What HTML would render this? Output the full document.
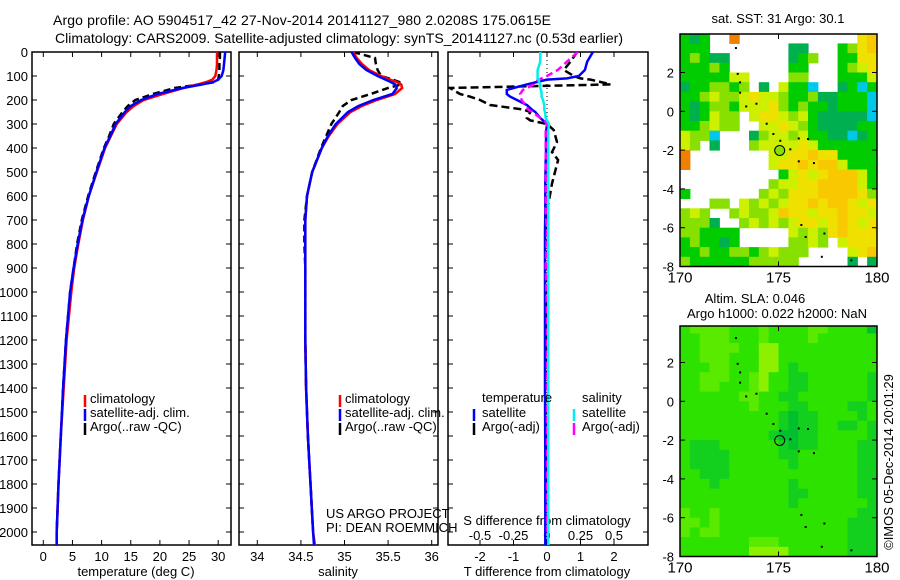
<!DOCTYPE html>
<html><head><meta charset="utf-8"><style>
html,body{margin:0;padding:0;background:#fff;}
svg{display:block;font-family:"Liberation Sans",Arial,sans-serif;}
</style></head><body>
<svg id="chart" width="900" height="580" viewBox="0 0 900 580" xmlns="http://www.w3.org/2000/svg">
<defs>
<clipPath id="c1"><rect x="32" y="52" width="199" height="493"/></clipPath>
<clipPath id="c2"><rect x="239" y="52" width="199" height="493"/></clipPath>
<clipPath id="c3"><rect x="448" y="52" width="200" height="493"/></clipPath>
<clipPath id="cm1"><rect x="680" y="34" width="197" height="233"/></clipPath>
<clipPath id="cm2"><rect x="680" y="326" width="197" height="231"/></clipPath>
</defs>
<text x="53" y="25" font-size="14" textLength="498">Argo profile: AO 5904517_42 27-Nov-2014 20141127_980 2.0208S 175.0615E</text>
<text x="55" y="43" font-size="14" textLength="568">Climatology: CARS2009. Satellite-adjusted climatology: synTS_20141127.nc (0.53d earlier)</text>
<g id="g1"></g>
<g id="g2"></g>
<g id="g3"></g>
<g id="m1"></g>
<g id="m2"></g>
<text x="778" y="23" font-size="13" text-anchor="middle">sat. SST: 31  Argo: 30.1</text>
<text x="755" y="303" font-size="13" text-anchor="middle">Altim. SLA: 0.046</text>
<text x="777" y="318" font-size="13" text-anchor="middle">Argo h1000: 0.022 h2000: NaN</text>
<text x="0" y="0" font-size="13" text-anchor="middle" transform="translate(893,462) rotate(-90)">©IMOS 05-Dec-2014 20:01:29</text>
</svg>
<script>
// ---------- profile data ----------
const depths = [0,25,50,75,100,115,125,135,150,175,200,225,250,300,350,400,500,600,700,800,900,1000,1200,1400,1600,1800,2000,2055];
const tempClim = [29.8,29.8,29.8,29.7,29.5,29.0,28.0,26.5,24.0,20.5,17.2,15.5,14.3,12.6,11.6,10.6,9.2,7.8,6.8,6.0,5.3,4.8,4.0,3.5,3.0,2.6,2.3,2.3];
const tempSat = [31.2,31.1,31.0,30.9,30.6,30.0,29.2,27.3,23.9,19.6,16.8,15.0,14.0,12.4,11.5,10.5,9.1,7.8,6.7,5.9,5.2,4.6,3.9,3.4,3.0,2.6,2.3,2.3];
const tempArgo = [30.3,30.3,30.2,30.2,30.1,30.0,29.5,27.0,22.5,18.8,15.8,14.5,13.6,12.1,11.3,10.4,9.0,7.7,6.6,5.8,5.2,4.6,3.9,3.4,3.0,2.6,2.3,null];
const salClim = [35.1,35.14,35.2,35.28,35.42,35.52,35.6,35.65,35.66,35.58,35.37,35.2,35.07,34.92,34.82,34.74,34.63,34.57,34.55,34.55,34.55,34.55,34.55,34.56,34.58,34.61,34.64,34.66];
const salSat = [35.08,35.12,35.17,35.25,35.38,35.47,35.53,35.58,35.6,35.55,35.33,35.16,35.04,34.9,34.81,34.74,34.63,34.57,34.55,34.55,34.55,34.55,34.55,34.56,34.58,34.61,34.64,34.65];
const salArgo = [35.1,35.35,35.36,35.38,35.42,35.55,35.63,35.65,35.5,35.3,35.08,34.98,34.94,34.85,34.79,34.73,34.63,34.57,34.54,34.54,34.55,34.55,34.55,34.56,34.58,34.61,34.64,null];
const diffDepths = [0,40,75,100,110,115,125,135,150,158,175,186,200,221,240,250,275,285,300,325,375,417,450,548,667,750,890,1100,1400,1700,2000,2055];
const dTempSat = [1.37,1.2,1.13,0.95,0.6,0,-0.3,-0.6,-1.0,-1.2,-1.2,-1.1,-0.9,-0.6,-0.45,-0.35,-0.2,-0.12,0,-0.02,-0.03,-0.03,-0.04,-0.05,-0.05,-0.06,-0.06,-0.06,-0.06,-0.05,-0.05,-0.05];
const dTempArgo = [0.9,0.7,0.5,0.8,1.0,1.3,1.6,1.9,-2.9,-2.8,-2.6,-2.3,-2.0,-1.7,-0.7,-0.5,-0.6,-0.5,0,0.2,0.3,0.15,0.33,0.15,0,-0.05,-0.02,0,-0.02,-0.01,-0.02,null];
const dSalSat = [-0.05,-0.05,-0.07,-0.07,-0.07,-0.06,-0.06,-0.05,-0.05,-0.045,-0.04,-0.04,-0.03,-0.02,-0.02,-0.015,-0.01,0,0.015,0.01,0.01,0.01,0.01,0.01,0.01,0.01,0.01,0.01,0.01,0.01,0.01,0.01];
const dSalArgo = [0.23,0.15,0.08,0,-0.04,-0.06,-0.09,-0.1,-0.15,-0.18,-0.2,-0.19,-0.19,-0.16,-0.14,-0.11,-0.05,-0.02,0,-0.01,-0.01,-0.01,-0.01,-0.01,-0.01,0,-0.01,0,0,0,0,null];
const depthTicks = [0,100,200,300,400,500,600,700,800,900,1000,1100,1200,1300,1400,1500,1600,1700,1800,1900,2000];
const tempTicks = [0,5,10,15,20,25,30];
const salTicks = [34,34.5,35,35.5,36];
const salTickLabels = ["34","34.5","35","35.5","36"];
const dTempTicks = [-2,-1,0,1,2];
const dSalTicks = [-0.5,-0.25,0,0.25,0.5];
const dSalTickLabels = ["-0.5","-0.25","0","0.25","0.5"];

// ---------- map data (0.5 deg cells, lat 4 -> -8, lon 170 -> 180) ----------
const sstRows = [
"GDG  R            EO",
"GGG        DD   GLEO",
"GLGDD      DGL  GGEE",
"GGGLG      GG   GLYE",
"GGGGGYY    LL   GGGY",
"DGGLLGL D YGGC  DGCG",
"GGLYLLYEYYLGGLDDGGGC",
"GDGLLGYYYELGLGGDGGGC",
"GDGYLL YEEYLYGDDDDDC",
"GGLYLL  YYEYLGDDDDGG",
"YLLC   DLYYLYGGDDCDG",
"YL D   LYYYYEYGGGGGG",
"R        YYEEOEEGGGG",
"R        YEEOEOOYGGG",
"          GYEYEOOOYG",
"         LYYEEOOOOYG",
"G       LYLEEEOOOOEL",
"   LL YLYLYEEOEOOEYE",
"LYL  LYLLYOEEYEEOEEY",
"LLLD  LYLYLYEEYEOEYE",
"LLGGGG     YLYLEOEEE",
"GLGGDG     LLYL YEEE",
"GGLGGLLGLYLLL    YEO",
"LGGGGGGLLLLL     D D"];
const slaRows = [
"gllllggglggggllgggge",
"gglllggglgggglgggggg",
"ggllllggbbgggggggggg",
"gglllgggbbgggggggggg",
"gggllgggbbgdgggggggg",
"gglllgglbggddggggggd",
"ggllggglbggddggggggd",
"ggggggllggddgggggggd",
"ggggggglgggddggggddg",
"ggggggggggdeddggggdg",
"ggggggggggdeddggddgd",
"gggggggggdeeddgggggd",
"gdddggggggdeddggggdd",
"gddddgggggddggggggdd",
"gddddggggggdggggggdd",
"ggdddgggggggggggggdd",
"gggdgggggggdggggggdd",
"gggggggggggddgggggdd",
"gggggggggggdgggggggd",
"lgglggggggggggggggdd",
"llglgggggggggggggddd",
"lgllgggggggggggggddd",
"ggggggglllgggggggddd",
"gggggggbbbbggggggddd"];
const islandLon = [172.84,172.93,173.05,173.05,173.36,173.88,174.4,174.74,175.09,175.6,176.03,176.5,176.03,176.8,176.16,176.38,177.33,177.2,178.7,178.45];
const islandLat = [3.26,1.93,1.49,0.96,0.25,0.39,-0.64,-1.17,-1.52,-1.96,-1.4,-1.43,-2.58,-2.67,-5.86,-6.48,-6.3,-7.5,-7.68,-8.2];
const floatLon = [175.06];
const floatLat = [-2.02];
const mapLatTicks = [2,0,-2,-4,-6,-8];
const mapLonTicks = [170,175,180];

const NS = "http://www.w3.org/2000/svg";
function mk(parent, tag, attrs){ const e=document.createElementNS(NS,tag); for(const k in attrs) e.setAttribute(k,attrs[k]); parent.appendChild(e); return e; }
const yD = d => 52 + d*0.24;
const xT = t => 43.3 + t*5.83;
const xS = s => 257.3 + (s-34)*87.2;
const xDT = t => 547 + t*33.5;
const xDS = s => 547 + s*134;

function series(g, xs, vals, dps, fn, color, dash, name, clip){
  let d=""; let pen=false;
  for(let i=0;i<vals.length;i++){
    if(vals[i]===null){pen=false;continue;}
    d += (pen?"L":"M") + fn(vals[i]).toFixed(1) + "," + yD(dps[i]).toFixed(1);
    pen=true;
  }
  const p = mk(g,"path",{d:d,fill:"none",stroke:color,"stroke-width":2.5,"clip-path":"url(#"+clip+")"});
  if(dash) p.setAttribute("stroke-dasharray",dash);
  
  
}
function frame(g, x0, x1, name){
  const r = mk(g,"rect",{x:x0,y:52,width:x1-x0,height:493,fill:"none",stroke:"#000","stroke-width":1.5});
  
  
  depthTicks.forEach(t=>{
    const y=yD(t);
    const a = mk(g,"line",{x1:x0,x2:x0+5,y1:y,y2:y,stroke:"#000"});
    
    
    const b = mk(g,"line",{x1:x1-5,x2:x1,y1:y,y2:y,stroke:"#000"});
    
    
  });
}
function xticks(g, ticks, labels, fn, ylab){
  ticks.forEach((t,i)=>{
    const x=fn(t);
    const a = mk(g,"line",{x1:x,x2:x,y1:52,y2:57,stroke:"#000"});
    
    
    const b = mk(g,"line",{x1:x,x2:x,y1:540,y2:545,stroke:"#000"});
    
    
    const tx = mk(g,"text",{x:x,y:ylab,"font-size":13,"text-anchor":"middle"});
    tx.textContent = labels[i];
    
    
  });
}
function txt(g, x, y, s, name, anchor){
  const t = mk(g,"text",{x:x,y:y,"font-size":13});
  if(anchor) t.setAttribute("text-anchor",anchor);
  t.textContent = s;
  
  
  return t;
}
function legBar(g, x, y, color, name){
  const l = mk(g,"line",{x1:x,x2:x,y1:y-7,y2:y+5,stroke:color,"stroke-width":2.5});
  
  
}

// Panel 1
const g1=document.getElementById("g1");
frame(g1,32,231,"temperature-plot-frame");
depthTicks.forEach(t=>{ txt(g1,28,yD(t)+5,String(t),"depth-tick-label","end"); });
xticks(g1,tempTicks,tempTicks.map(String),xT,561);
txt(g1,136,576,"temperature (deg C)","x-axis-title-temperature","middle");
series(g1,null,tempArgo,depths,xT,"#000","7,4","argo-temperature-line","c1");
series(g1,null,tempClim,depths,xT,"#ff0000",null,"climatology-temperature-line","c1");
series(g1,null,tempSat,depths,xT,"#0000ff",null,"satellite-temperature-line","c1");
[["climatology","#ff0000"],["satellite-adj. clim.","#0000ff"],["Argo(..raw -QC)","#000"]].forEach((e,i)=>{
  legBar(g1,85,402+i*14,e[1],"legend-swatch");
  txt(g1,90,403+i*14,e[0],"legend-entry");
});

// Panel 2
const g2=document.getElementById("g2");
frame(g2,239,438,"salinity-plot-frame");
xticks(g2,salTicks,salTickLabels,xS,561);
txt(g2,338,576,"salinity","x-axis-title-salinity","middle");
series(g2,null,salArgo,depths,xS,"#000","7,4","argo-salinity-line","c2");
series(g2,null,salClim,depths,xS,"#ff0000",null,"climatology-salinity-line","c2");
series(g2,null,salSat,depths,xS,"#0000ff",null,"satellite-salinity-line","c2");
[["climatology","#ff0000"],["satellite-adj. clim.","#0000ff"],["Argo(..raw -QC)","#000"]].forEach((e,i)=>{
  legBar(g2,340,402+i*14,e[1],"legend-swatch");
  txt(g2,345,403+i*14,e[0],"legend-entry");
});
txt(g2,326,518,"US ARGO PROJECT","credit-project");
txt(g2,326,532,"PI: DEAN ROEMMICH","credit-pi");

// Panel 3
const g3=document.getElementById("g3");
frame(g3,448,648,"difference-plot-frame");
xticks(g3,dTempTicks,dTempTicks.map(String),xDT,561);
txt(g3,547,576,"T difference from climatology","x-axis-title-t-difference","middle");
txt(g3,547,525,"S difference from climatology","x-axis-title-s-difference","middle");
dSalTicks.forEach((t,i)=>{ txt(g3,xDS(t),540,dSalTickLabels[i],"s-tick-label","middle"); });
const zl = mk(g3,"line",{x1:xDT(0),x2:xDT(0),y1:52,y2:545,stroke:"#000","stroke-dasharray":"1,3"});


series(g3,null,dTempArgo,diffDepths,xDT,"#000","8,4","argo-t-difference-line","c3");
series(g3,null,dTempSat,diffDepths,xDT,"#0000ff",null,"satellite-t-difference-line","c3");
series(g3,null,dSalArgo,diffDepths,xDS,"#ff00ff","7,4","argo-s-difference-line","c3");
series(g3,null,dSalSat,diffDepths,xDS,"#00eeee",null,"satellite-s-difference-line","c3");
txt(g3,482,402,"temperature","legend-header-temperature");
txt(g3,582,402,"salinity","legend-header-salinity");
legBar(g3,474,416,"#0000ff","legend-swatch"); txt(g3,482,417,"satellite","legend-entry");
legBar(g3,474,430,"#000","legend-swatch"); txt(g3,482,431,"Argo(-adj)","legend-entry");
legBar(g3,574,416,"#00eeee","legend-swatch"); txt(g3,582,417,"satellite","legend-entry");
legBar(g3,574,430,"#ff00ff","legend-swatch"); txt(g3,582,431,"Argo(-adj)","legend-entry");

// Maps
const sstColors = {G:"#00cc00",D:"#00b050",L:"#88e000",Y:"#ccf000",E:"#f0e000",O:"#f8c800",R:"#f08000",C:"#00c8e8"};
const slaColors = {g:"#2ee200",l:"#5aea00",b:"#8cf000",d:"#14d01e",e:"#00c030"};
function drawMap(g, rows, colors, top, bottom, clip, name, fillCircle){
  const lonX = lon => 680 + (lon-170)*19.7;
  const latY = lat => top + (0-lat)*19.4 + 0*bottom;
  const cg = mk(g,"g",{"clip-path":"url(#"+clip+")"});
  
  
  rows.forEach((row,r)=>{
    for(let c=0;c<row.length;c++){
      const ch=row[c]; if(ch===" ") continue;
      const lon=170+c*0.5, lat=4-r*0.5;
      const x=lonX(lon), y=latY(lat);
      const rc = mk(cg,"rect",{x:x.toFixed(1),y:y.toFixed(1),width:10.4,height:10.2,fill:colors[ch]});
      
      
    }
  });
  islandLon.forEach((lon,i)=>{
    const d = mk(cg,"rect",{x:lonX(lon)-1,y:latY(islandLat[i])-1,width:2,height:2,fill:"#000"});
    
    
  });
  floatLon.forEach((lon,i)=>{
    const c = mk(cg,"circle",{cx:lonX(lon),cy:latY(floatLat[i]),r:5,fill:fillCircle,stroke:"#000","stroke-width":1});
    
    
  });
  const y0 = latY(4), y1 = latY(-8);
  const yt = Math.max(y0, clip==="cm1"?34:326);
  const fr = mk(g,"rect",{x:680,y:yt,width:197,height:y1-yt,fill:"none",stroke:"#000","stroke-width":1.5});
  
  
  mapLatTicks.forEach(t=>{
    const y=latY(t);
    const a = mk(g,"line",{x1:680,x2:685,y1:y,y2:y,stroke:"#000"});
    
    
    const b = mk(g,"line",{x1:872,x2:877,y1:y,y2:y,stroke:"#000"});
    
    
    txt(g,674,y+5,String(t),"lat-tick-label","end");
  });
  mapLonTicks.forEach(t=>{
    const x=lonX(t);
    const a = mk(g,"line",{x1:x,x2:x,y1:yt,y2:yt+5,stroke:"#000"});
    
    
    const b = mk(g,"line",{x1:x,x2:x,y1:y1-5,y2:y1,stroke:"#000"});
    
    
    const tt = txt(g,x,y1+16,String(t),"lon-tick-label","middle");
    tt.setAttribute("font-size","15");
  });
}
drawMap(document.getElementById("m1"), sstRows, sstColors, 111.3, 266.7, "cm1", "sst-map", "#88e000");
drawMap(document.getElementById("m2"), slaRows, slaColors, 401.3, 556.7, "cm2", "sla-map", "none");
</script>
</body></html>
